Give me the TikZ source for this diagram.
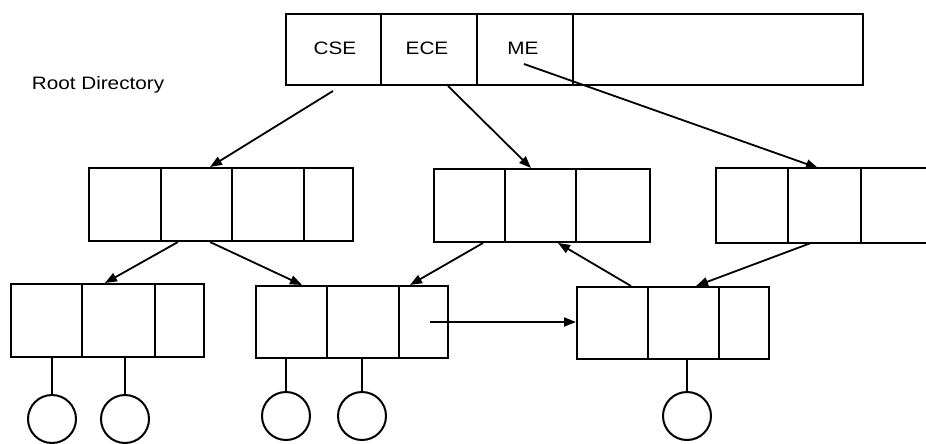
\documentclass[tikz,border=0pt]{standalone}
\usepackage{fontspec}
\setmainfont{Liberation Sans}[FakeStretch=1.15]
\usetikzlibrary{arrows.meta}

\tikzset{
  dirbox/.style={draw, line width=2pt, anchor=north west, inner sep=0pt, minimum height=72pt},
  filecirc/.style={draw, circle, line width=2pt, minimum size=48pt, inner sep=0pt},
  link/.style={line width=1.8pt, -{Triangle[length=12pt,width=9pt]}},
  stem/.style={line width=1.6pt},
  lbl/.style={font=\fontsize{18}{20}\selectfont, inner sep=0pt}
}

\begin{document}
\begin{tikzpicture}[x=1pt,y=-1pt]

\useasboundingbox (0,0) rectangle (926,444);


% Part A: Root directory


\node[dirbox, minimum width=577pt, minimum height=71pt] (T) at (285,13) {};
\foreach \dx in {96,192,288}
  \draw[line width=2pt] ([xshift=\dx pt]T.north west) -- ([xshift=\dx pt]T.south west);

\node[lbl] (cse) at (335,48) {CSE};
\node[lbl] (ece) at (427,48) {ECE};
\node[lbl] (me)  at (523,48) {ME};
\node[lbl] (root) at (98,85) {Root Directory};


% Part B: Subdirectories


\node[dirbox, minimum width=264pt, minimum height=73pt] (A) at (88,167) {};
\foreach \dx in {73,144,216}
  \draw[line width=2pt] ([xshift=\dx pt]A.north west) -- ([xshift=\dx pt]A.south west);

\node[dirbox, minimum width=216pt, minimum height=73pt] (B) at (433,168) {};
\foreach \dx in {72,143}
  \draw[line width=2pt] ([xshift=\dx pt]B.north west) -- ([xshift=\dx pt]B.south west);

% open to the right edge
\node[dirbox, draw=none, minimum width=214pt, minimum height=73pt] (C) at (716,168) {};
\draw[line width=2pt] (C.north east) -- (C.north west) -- (C.south west) -- (C.south east);
\foreach \dx in {72,145}
  \draw[line width=2pt] ([xshift=\dx pt]C.north west) -- ([xshift=\dx pt]C.south west);


% Part C: Lower directories


\node[dirbox, minimum width=193pt, minimum height=73pt] (D) at (10,283) {};
\foreach \dx in {72,145}
  \draw[line width=2pt] ([xshift=\dx pt]D.north west) -- ([xshift=\dx pt]D.south west);

\node[dirbox, minimum width=192pt] (E) at (255,285) {};
\foreach \dx in {72,144}
  \draw[line width=2pt] ([xshift=\dx pt]E.north west) -- ([xshift=\dx pt]E.south west);

\node[dirbox, minimum width=192pt] (F) at (576,286) {};
\foreach \dx in {72,143}
  \draw[line width=2pt] ([xshift=\dx pt]F.north west) -- ([xshift=\dx pt]F.south west);


% Part D: Files


\node[filecirc] (d1) at (52,419) {};
\node[filecirc] (d2) at (125,419) {};
\node[filecirc] (e1) at (286,416) {};
\node[filecirc] (e2) at (362,416) {};
\node[filecirc] (f1) at (687,416) {};

\foreach \f/\b in {d1/D,d2/D,e1/E,e2/E,f1/F}
  \draw[stem] (\f.north) -- (\f.north |- \b.south);


% Part E: Links


\coordinate (mestart) at (524,64);
\coordinate (estart) at (430,322);

\draw[link] ([xshift=48pt,yshift=-5pt]T.south west) -- ([xshift=122pt]A.north west);
\draw[link] ([xshift=163pt]T.south west) -- ([xshift=98pt]B.north west);
\draw[link] (mestart) -- ([xshift=102pt]C.north west);

\draw[link] ([xshift=90pt]A.south west) -- ([xshift=95pt]D.north west);
\draw[link] ([xshift=122pt]A.south west) -- ([xshift=47pt]E.north west);
\draw[link] ([xshift=50pt]B.south west) -- ([xshift=155pt]E.north west);
\draw[link] ([xshift=55pt]F.north west) -- ([xshift=125pt]B.south west);
\draw[link] ([xshift=95pt]C.south west) -- ([xshift=120pt]F.north west);
\draw[link] (estart) -- (estart -| F.west);

\end{tikzpicture}
\end{document}
